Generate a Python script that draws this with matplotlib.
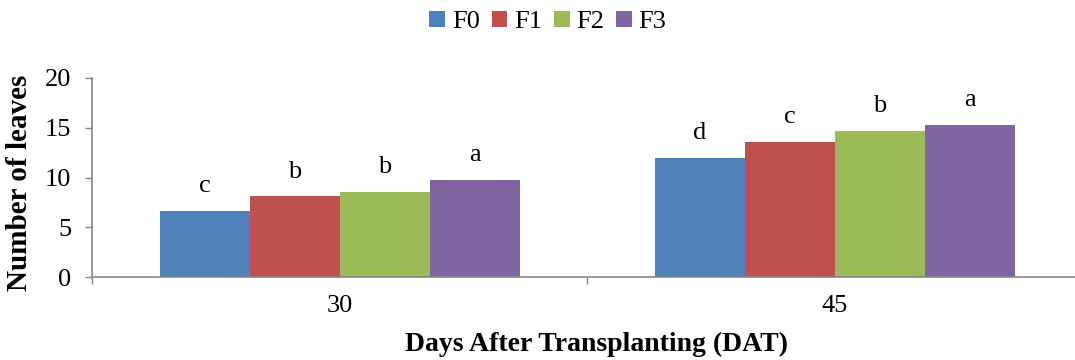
import matplotlib
matplotlib.use("Agg")
import matplotlib.pyplot as plt
import numpy as np

# number of leaves per treatment at each sampling date
days = ["30", "45"]
treatments = ["F0", "F1", "F2", "F3"]
leaves = {
    "F0": [6.63, 12.0],
    "F1": [8.1, 13.6],
    "F2": [8.57, 14.7],
    "F3": [9.73, 15.3],
}
# DMRT letters shown above each bar
letters = {
    "F0": ["c", "d"],
    "F1": ["b", "c"],
    "F2": ["b", "b"],
    "F3": ["a", "a"],
}
colors = ["#4F81BD", "#C0504D", "#9BBB59", "#8064A2"]

plt.rcParams["font.family"] = ["Liberation Serif", "DejaVu Serif"]
grey = "#868686"

fig = plt.figure(figsize=(10.75, 3.6), dpi=100)
ax = fig.add_axes([92 / 1075, 1 - 277 / 360, 990 / 1075, 199 / 360])

x = np.arange(len(days))
w = 1 / 5.5  # excel-style 150% gap width
for i, t in enumerate(treatments):
    pos = x + (i - 1.5) * w
    ax.bar(pos, leaves[t], width=w, color=colors[i], label=t,
           edgecolor="none", zorder=2)
    for xp, v, lt in zip(pos, leaves[t], letters[t]):
        ax.annotate(lt, (xp, v), xytext=(0, 10), textcoords="offset points",
                    ha="center", va="bottom", fontsize=19)

ax.set_xlim(-0.5, 1.5)
ax.set_ylim(0, 20)
ax.set_yticks([0, 5, 10, 15, 20])
ax.set_xticks([-0.5, 0.5, 1.5])
ax.set_xticklabels([])
ax.set_xticks(x, minor=True)
ax.set_xticklabels(days, minor=True)

ax.tick_params(axis="both", which="major", direction="out", length=5,
               width=1, color=grey, labelsize=19)
ax.tick_params(axis="y", pad=10)
ax.tick_params(axis="x", which="minor", length=0, pad=13, labelsize=19)

for s in ["top", "right"]:
    ax.spines[s].set_visible(False)
for s in ["left", "bottom"]:
    ax.spines[s].set_color(grey)
    ax.spines[s].set_linewidth(1.2)

ax.set_ylabel("Number of leaves", fontsize=21, fontweight="bold",
              va="center")
ax.yaxis.set_label_coords(-0.073, 0.4725)
ax.set_xlabel("Days After Transplanting (DAT)", fontsize=20,
              fontweight="bold", va="center")
ax.xaxis.set_label_coords(0.51, -0.34)

fig.legend(loc="center", bbox_to_anchor=(548 / 1075, 1 - 22 / 360), ncol=4,
           frameon=False, fontsize=19, handlelength=0.6, handleheight=0.6,
           handletextpad=0.25, columnspacing=0.45)

fig.savefig("out.png", dpi=100)
